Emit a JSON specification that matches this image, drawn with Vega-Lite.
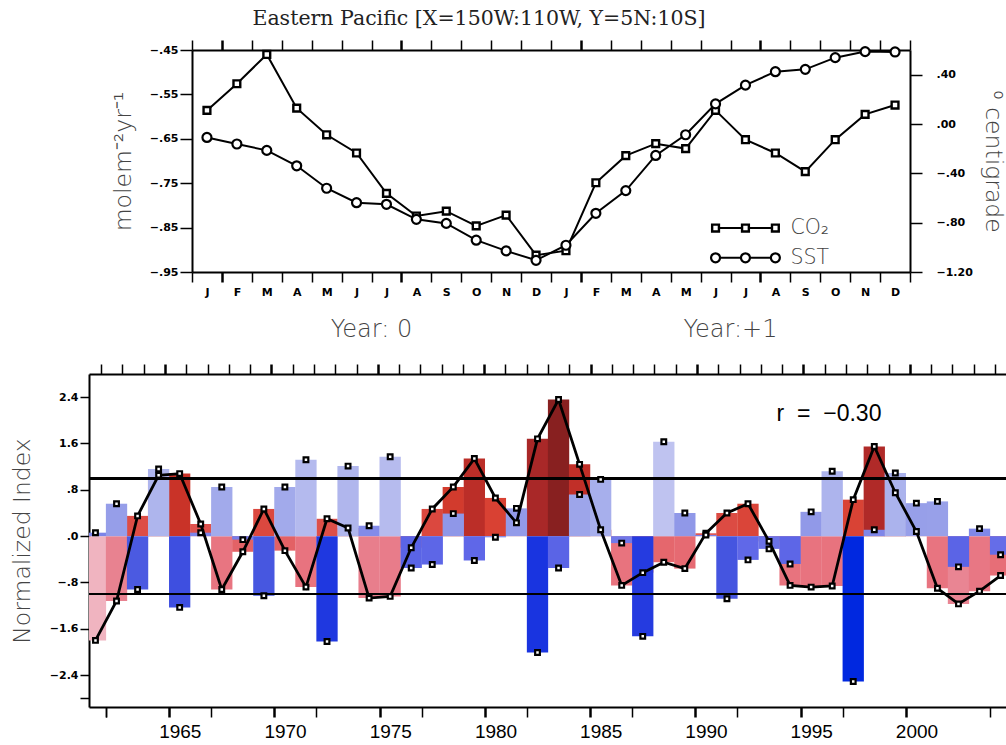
{
  "$schema": "https://vega.github.io/schema/vega-lite/v6.json",
  "padding": {"left": 10, "top": 9, "right": 0, "bottom": 0},
  "background": "white",
  "config": {
    "view": {"stroke": null},
    "axis": {"domainColor": "#000", "domainWidth": 2, "tickColor": "#000", "tickWidth": 1.5, "labelColor": "#000", "labelFont": "DejaVu Sans", "labelFontWeight": "bold", "labelFontSize": 11, "labelOverlap": false, "grid": false, "titleFont": "DejaVu Sans", "titleFontWeight": 200, "titleColor": "#444", "titleFontSize": 23.5},
    "text": {"font": "DejaVu Sans"}
  },
  "datasets": {
    "monthly": [
      {"t": 1, "co2": -0.586, "sst": -0.109},
      {"t": 2, "co2": -0.526, "sst": -0.162},
      {"t": 3, "co2": -0.460, "sst": -0.214},
      {"t": 4, "co2": -0.581, "sst": -0.339},
      {"t": 5, "co2": -0.641, "sst": -0.521},
      {"t": 6, "co2": -0.682, "sst": -0.638},
      {"t": 7, "co2": -0.773, "sst": -0.651},
      {"t": 8, "co2": -0.824, "sst": -0.773},
      {"t": 9, "co2": -0.813, "sst": -0.806},
      {"t": 10, "co2": -0.846, "sst": -0.942},
      {"t": 11, "co2": -0.822, "sst": -1.029},
      {"t": 12, "co2": -0.912, "sst": -1.105},
      {"t": 13, "co2": -0.902, "sst": -0.983},
      {"t": 14, "co2": -0.749, "sst": -0.724},
      {"t": 15, "co2": -0.688, "sst": -0.540},
      {"t": 16, "co2": -0.661, "sst": -0.255},
      {"t": 17, "co2": -0.672, "sst": -0.087},
      {"t": 18, "co2": -0.586, "sst": 0.163},
      {"t": 19, "co2": -0.652, "sst": 0.315},
      {"t": 20, "co2": -0.682, "sst": 0.424},
      {"t": 21, "co2": -0.724, "sst": 0.443},
      {"t": 22, "co2": -0.652, "sst": 0.538},
      {"t": 23, "co2": -0.595, "sst": 0.587},
      {"t": 24, "co2": -0.574, "sst": 0.584}
    ],
    "legend": [
      {"s": "CO₂", "t": 18, "v": -0.851},
      {"s": "CO₂", "t": 19, "v": -0.851},
      {"s": "CO₂", "t": 20, "v": -0.851},
      {"s": "SST", "t": 18, "v": -0.918},
      {"s": "SST", "t": 19, "v": -0.918},
      {"s": "SST", "t": 20, "v": -0.918}
    ],
    "annual": [
      {"year": 1961, "a": -1.80, "b": 0.06},
      {"year": 1962, "a": -1.12, "b": 0.56},
      {"year": 1963, "a": 0.35, "b": -0.92},
      {"year": 1964, "a": 1.05, "b": 1.16},
      {"year": 1965, "a": 1.08, "b": -1.23},
      {"year": 1966, "a": 0.21, "b": 0.06},
      {"year": 1967, "a": -0.92, "b": 0.85},
      {"year": 1968, "a": -0.27, "b": -0.06},
      {"year": 1969, "a": 0.47, "b": -1.03},
      {"year": 1970, "a": -0.25, "b": 0.85},
      {"year": 1971, "a": -0.88, "b": 1.32},
      {"year": 1972, "a": 0.30, "b": -1.82},
      {"year": 1973, "a": 0.14, "b": 1.21},
      {"year": 1974, "a": -1.07, "b": 0.18},
      {"year": 1975, "a": -1.04, "b": 1.37},
      {"year": 1976, "a": -0.20, "b": -0.55},
      {"year": 1977, "a": 0.47, "b": -0.49},
      {"year": 1978, "a": 0.85, "b": 0.39},
      {"year": 1979, "a": 1.34, "b": -0.42},
      {"year": 1980, "a": 0.66, "b": -0.02},
      {"year": 1981, "a": 0.23, "b": 0.48},
      {"year": 1982, "a": 1.68, "b": -2.01},
      {"year": 1983, "a": 2.36, "b": -0.55},
      {"year": 1984, "a": 1.24, "b": 0.72},
      {"year": 1985, "a": 0.11, "b": 0.98},
      {"year": 1986, "a": -0.85, "b": -0.12},
      {"year": 1987, "a": -0.63, "b": -1.73},
      {"year": 1988, "a": -0.45, "b": 1.63},
      {"year": 1989, "a": -0.56, "b": 0.40},
      {"year": 1990, "a": 0.05, "b": 0.02},
      {"year": 1991, "a": 0.40, "b": -1.08},
      {"year": 1992, "a": 0.56, "b": -0.41},
      {"year": 1993, "a": -0.09, "b": -0.22},
      {"year": 1994, "a": -0.85, "b": -0.48},
      {"year": 1995, "a": -0.88, "b": 0.42},
      {"year": 1996, "a": -0.86, "b": 1.12},
      {"year": 1997, "a": 0.63, "b": -2.51},
      {"year": 1998, "a": 1.55, "b": 0.11},
      {"year": 1999, "a": 0.75, "b": 1.09},
      {"year": 2000, "a": 0.08, "b": 0.57},
      {"year": 2001, "a": -0.90, "b": 0.60},
      {"year": 2002, "a": -1.17, "b": -0.53},
      {"year": 2003, "a": -0.95, "b": 0.13},
      {"year": 2004, "a": -0.68, "b": -0.32}
    ]
  },
  "spacing": 21,
  "vconcat": [
    {
      "spacing": 18,
      "hconcat": [
        {"width": 1, "height": 10, "data": {"values": [{}]}, "mark": {"type": "point", "opacity": 0}},
        {
          "width": 718,
          "height": 222,
          "title": {"text": "Eastern Pacific [X=150W:110W, Y=5N:10S]", "font": "DejaVu Serif", "fontSize": 20.5, "fontWeight": "normal", "color": "#222", "frame": "group", "anchor": "middle", "dx": -72, "offset": 9},
          "layer": [
            {
              "data": {"name": "monthly"},
              "layer": [
                {
                  "mark": {"type": "line", "color": "#000", "strokeWidth": 2},
                  "encoding": {
                    "x": {"field": "t", "type": "ordinal", "scale": {"type": "band", "paddingInner": 0, "paddingOuter": 0},
                      "axis": {"title": null, "orient": "bottom", "tickBand": "extent", "tickSize": 10, "labelPadding": 4, "labelAngle": 0,
                        "labelExpr": "['J','F','M','A','M','J','J','A','S','O','N','D'][(datum.value-1)%12]",
                        "tickWidth": {"condition": {"test": "(datum.value-1)%6==0", "value": 2.5}, "value": 1.5}}},
                    "y": {"field": "co2", "type": "quantitative", "scale": {"domain": [-0.95, -0.45], "nice": false, "zero": false},
                      "axis": {"title": "molem⁻²yr⁻¹", "orient": "left", "values": [-0.95, -0.9, -0.85, -0.8, -0.75, -0.7, -0.65, -0.6, -0.55, -0.5, -0.45],
                        "labelExpr": "abs(round(datum.value*100))%10==5 ? replace(format(datum.value,'.2f'),'0.','.') : ''",
                        "tickSize": 12, "labelPadding": 2, "titlePadding": 14}}
                  }
                },
                {
                  "mark": {"type": "point", "shape": "square", "filled": true, "fill": "white", "stroke": "#000", "strokeWidth": 2.4, "size": 46, "opacity": 1},
                  "encoding": {
                    "x": {"field": "t", "type": "ordinal", "scale": {"type": "band", "paddingInner": 0, "paddingOuter": 0}},
                    "y": {"field": "co2", "type": "quantitative"}
                  }
                },
                {
                  "data": {"name": "legend"},
                  "mark": {"type": "line", "color": "#000", "strokeWidth": 2},
                  "encoding": {
                    "x": {"field": "t", "type": "ordinal", "scale": {"type": "band", "paddingInner": 0, "paddingOuter": 0}},
                    "y": {"field": "v", "type": "quantitative"},
                    "detail": {"field": "s"}
                  }
                },
                {
                  "data": {"name": "legend"},
                  "transform": [{"filter": "datum.s == 'CO₂'"}],
                  "mark": {"type": "point", "shape": "square", "filled": true, "fill": "white", "stroke": "#000", "strokeWidth": 2.4, "size": 46, "opacity": 1},
                  "encoding": {
                    "x": {"field": "t", "type": "ordinal", "scale": {"type": "band", "paddingInner": 0, "paddingOuter": 0}},
                    "y": {"field": "v", "type": "quantitative"}
                  }
                },
                {
                  "data": {"name": "legend"},
                  "transform": [{"filter": "datum.s == 'SST'"}],
                  "mark": {"type": "point", "shape": "circle", "filled": true, "fill": "white", "stroke": "#000", "strokeWidth": 2.2, "size": 81, "opacity": 1},
                  "encoding": {
                    "x": {"field": "t", "type": "ordinal", "scale": {"type": "band", "paddingInner": 0, "paddingOuter": 0}},
                    "y": {"field": "v", "type": "quantitative"}
                  }
                },
                {
                  "data": {"name": "legend"},
                  "transform": [{"filter": "datum.t == 20"}],
                  "mark": {"type": "text", "align": "left", "baseline": "middle", "dx": 15, "fontSize": 20.5, "fontWeight": 200, "color": "#444"},
                  "encoding": {
                    "x": {"field": "t", "type": "ordinal", "scale": {"type": "band", "paddingInner": 0, "paddingOuter": 0}},
                    "y": {"field": "v", "type": "quantitative"},
                    "text": {"field": "s"}
                  }
                }
              ]
            },
            {
              "data": {"name": "monthly"},
              "layer": [
                {
                  "mark": {"type": "line", "color": "#000", "strokeWidth": 2},
                  "encoding": {
                    "x": {"field": "t", "type": "ordinal", "scale": {"type": "band", "paddingInner": 0, "paddingOuter": 0},
                      "axis": {"title": null, "orient": "top", "labels": false, "tickBand": "extent", "tickSize": 10,
                        "tickWidth": {"condition": {"test": "(datum.value-1)%6==0", "value": 2.5}, "value": 1.5}}},
                    "y": {"field": "sst", "type": "quantitative", "scale": {"domain": [-1.2, 0.6], "nice": false, "zero": false},
                      "axis": {"title": "⁰ centigrade", "orient": "right", "values": [-1.2, -1.0, -0.8, -0.6, -0.4, -0.2, 0, 0.2, 0.4, 0.6],
                        "labelExpr": "abs(round(datum.value*10))%4==0 ? replace(format(datum.value,'.2f'),'0.','.') : ''",
                        "labelPadding": 14, "tickSize": 12, "titlePadding": 8}}
                  }
                },
                {
                  "mark": {"type": "point", "shape": "circle", "filled": true, "fill": "white", "stroke": "#000", "strokeWidth": 2.2, "size": 81, "opacity": 1},
                  "encoding": {
                    "x": {"field": "t", "type": "ordinal", "scale": {"type": "band", "paddingInner": 0, "paddingOuter": 0}},
                    "y": {"field": "sst", "type": "quantitative"}
                  }
                }
              ]
            },
            {
              "data": {"values": [{"yr": "Year: 0"}, {"yr": "Year:+1"}]},
              "mark": {"type": "text", "opacity": 0},
              "encoding": {
                "x": {"field": "yr", "type": "nominal", "sort": null, "scale": {"type": "band", "paddingInner": 0, "paddingOuter": 0},
                  "axis": {"title": null, "orient": "bottom", "domain": false, "ticks": false, "tickSize": 0, "labelPadding": 45, "labelAngle": 0,
                    "labelFont": "DejaVu Sans", "labelFontWeight": 200, "labelFontSize": 24, "labelColor": "#444"}},
                "text": {"value": "x"}
              }
            }
          ],
          "resolve": {"scale": {"x": "independent", "y": "independent"}}
        }
      ]
    },
    {
      "width": 917,
      "height": 333,
      "layer": [
        {
          "data": {"name": "annual"},
          "layer": [
            {
              "mark": {"type": "bar", "width": 21.3, "clip": true},
              "encoding": {
                "x": {"field": "year", "type": "quantitative"},
                "y": {"field": "a", "type": "quantitative"},
                "y2": {"datum": 0},
                "color": {"field": "a", "type": "quantitative", "legend": null,
                  "scale": {"domain": [-1.8, -1.1, -0.9, 0, 0.7, 1.1, 1.7, 2.4], "range": ["#F0B4C0", "#E8808E", "#E87480", "#E05A5A", "#D84030", "#C83228", "#A82828", "#862020"]}}
              }
            },
            {
              "mark": {"type": "bar", "width": 21.3, "clip": true},
              "encoding": {
                "x": {"field": "year", "type": "quantitative"},
                "y": {"field": "b", "type": "quantitative"},
                "y2": {"datum": 0},
                "color": {"field": "b", "type": "quantitative", "legend": null,
                  "scale": {"domain": [-2.51, -1.8, -1.0, -0.4, 0.4, 1.0, 1.65], "range": ["#0028E0", "#2038E0", "#4858E0", "#6068E8", "#9098E8", "#A8B0EC", "#C0C4F0"]}}
              }
            },
            {"mark": {"type": "rule", "color": "#000", "strokeWidth": 2}, "encoding": {"y": {"datum": 1}}},
            {"mark": {"type": "rule", "color": "#000", "strokeWidth": 2}, "encoding": {"y": {"datum": -1}}},
            {
              "mark": {"type": "line", "color": "#000", "strokeWidth": 2.8},
              "encoding": {
                "x": {"field": "year", "type": "quantitative", "scale": {"domain": [1960.93, 2004.02], "nice": false, "zero": false},
                  "axis": {"title": null, "orient": "bottom",
                    "values": [1961.5, 1961.5001, 1961.5002, 1961.5003, 1961.5004, 1961.5005, 1962.5, 1963.5,
                      1964.5, 1965.5, 1966.5, 1966.5001, 1966.5002, 1966.5003, 1967.5, 1968.5,
                      1969.5, 1970.5, 1971.5, 1971.5001, 1971.5002, 1971.5003, 1972.5, 1973.5,
                      1974.5, 1975.5, 1976.5, 1976.5001, 1976.5002, 1976.5003, 1977.5, 1978.5,
                      1979.5, 1980.5, 1981.5, 1981.5001, 1981.5002, 1981.5003, 1982.5, 1983.5,
                      1984.5, 1985.5, 1986.5, 1986.5001, 1986.5002, 1986.5003, 1987.5, 1988.5,
                      1989.5, 1990.5, 1991.5, 1991.5001, 1991.5002, 1991.5003, 1992.5, 1993.5,
                      1994.5, 1995.5, 1996.5, 1996.5001, 1996.5002, 1996.5003, 1997.5, 1998.5,
                      1999.5, 2000.5, 2001.5, 2002.5, 2003.5],
                    "tickSize": 10, "labelPadding": 5, "labelOffset": 10.64, "labelFlush": false,
                    "labelFont": "Liberation Sans", "labelFontWeight": "normal", "labelFontSize": 19,
                    "labelExpr": "(datum.value+0.5)%5==0 ? format(datum.value+0.5,'d') : ''",
                    "tickWidth": {"condition": {"test": "(datum.value+0.5)%5==0", "value": 2.5}, "value": 1.5}}},
                "y": {"field": "a", "type": "quantitative", "scale": {"domain": [-2.95, 2.8], "nice": false, "zero": false},
                  "axis": {"title": "Normalized Index", "orient": "left", "values": [-2.8, -2.7999, -2.4, -2, -1.6, -1.2, -0.8, -0.4, 0, 0.4, 0.8, 1.2, 1.6, 2, 2.4, 2.8],
                    "labelExpr": "abs(round(datum.value*10))%8==0 && abs(datum.value) < 2.6 ? replace(format(datum.value,'.1f'),'0.','.') : ''",
                    "tickSize": 9, "labelPadding": 2, "titlePadding": 15}}
              }
            },
            {
              "mark": {"type": "point", "shape": "square", "filled": true, "fill": "white", "stroke": "#000", "strokeWidth": 2.2, "size": 22, "opacity": 1},
              "encoding": {
                "x": {"field": "year", "type": "quantitative"},
                "y": {"field": "a", "type": "quantitative"}
              }
            },
            {
              "mark": {"type": "point", "shape": "square", "filled": true, "fill": "white", "stroke": "#000", "strokeWidth": 2.2, "size": 22, "opacity": 1},
              "encoding": {
                "x": {"field": "year", "type": "quantitative"},
                "y": {"field": "b", "type": "quantitative"}
              }
            },
            {
              "data": {"values": [{"year": 1995.85, "v": 2.11, "label": "r\u00a0\u00a0=\u00a0\u00a0−0.30"}]},
              "mark": {"type": "text", "font": "Liberation Sans", "fontSize": 23, "color": "#000", "align": "center", "baseline": "middle"},
              "encoding": {
                "x": {"field": "year", "type": "quantitative"},
                "y": {"field": "v", "type": "quantitative"},
                "text": {"field": "label"}
              }
            }
          ],
          "resolve": {"scale": {"color": "independent"}}
        },
        {
          "data": {"name": "annual"},
          "mark": {"type": "point", "opacity": 0},
          "encoding": {
            "x": {"field": "year", "type": "quantitative", "scale": {"domain": [1960.93, 2004.02], "nice": false, "zero": false},
              "axis": {"title": null, "orient": "top", "labels": false, "values": [1961.5, 1962.5, 1963.5, 1964.5, 1965.5, 1966.5, 1967.5, 1968.5, 1969.5, 1970.5, 1971.5, 1972.5, 1973.5, 1974.5, 1975.5, 1976.5, 1977.5, 1978.5, 1979.5, 1980.5, 1981.5, 1982.5, 1983.5, 1984.5, 1985.5, 1986.5, 1987.5, 1988.5, 1989.5, 1990.5, 1991.5, 1992.5, 1993.5, 1994.5, 1995.5, 1996.5, 1997.5, 1998.5, 1999.5, 2000.5, 2001.5, 2002.5, 2003.5],
                "tickSize": 10,
                "tickWidth": {"condition": {"test": "(datum.value+0.5)%5==0", "value": 2.5}, "value": 1.5}}}
          }
        }
      ],
      "resolve": {"scale": {"x": "independent", "y": "independent"}}
    }
  ]
}
